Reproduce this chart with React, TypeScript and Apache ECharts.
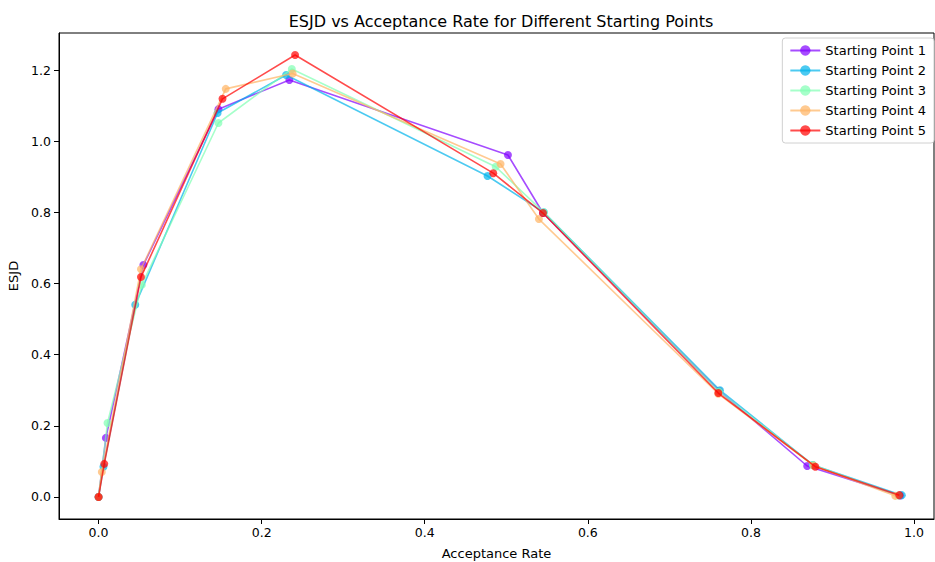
import React, { useEffect, useRef } from "react";
import * as echarts from "echarts";

// Acceptance rate (x) and ESJD (y) for each starting point
const seriesNames = [
  "Starting Point 1",
  "Starting Point 2",
  "Starting Point 3",
  "Starting Point 4",
  "Starting Point 5",
];

const acc1 = [0.0, 0.009, 0.055, 0.147, 0.234, 0.502, 0.545, 0.761, 0.869, 0.983];
const esjd1 = [0.0, 0.166, 0.652, 1.09, 1.172, 0.961, 0.798, 0.298, 0.087, 0.004];

const acc2 = [0.0, 0.006, 0.045, 0.146, 0.23, 0.477, 0.546, 0.762, 0.876, 0.985];
const esjd2 = [0.0, 0.085, 0.54, 1.079, 1.186, 0.902, 0.8, 0.3, 0.09, 0.005];

const acc3 = [0.0, 0.011, 0.053, 0.147, 0.237, 0.487, 0.546, 0.761, 0.876, 0.981];
const esjd3 = [0.0, 0.208, 0.596, 1.051, 1.203, 0.928, 0.8, 0.296, 0.09, 0.004];

const acc4 = [0.0, 0.004, 0.052, 0.156, 0.238, 0.493, 0.54, 0.76, 0.877, 0.977];
const esjd4 = [0.0, 0.07, 0.64, 1.147, 1.19, 0.936, 0.781, 0.29, 0.088, 0.003];

const acc5 = [0.0, 0.007, 0.052, 0.152, 0.241, 0.484, 0.545, 0.76, 0.879, 0.982];
const esjd5 = [0.0, 0.093, 0.618, 1.119, 1.242, 0.91, 0.798, 0.292, 0.085, 0.005];

const accs = [acc1, acc2, acc3, acc4, acc5];
const esjds = [esjd1, esjd2, esjd3, esjd4, esjd5];

// rainbow colormap sampled at 5 points
const colors = ["#8000ff", "#00b4eb", "#80ffb4", "#ffb462", "#ff0000"];

const xTicks = [0, 0.2, 0.4, 0.6, 0.8, 1.0];
const yTicks = [0, 0.2, 0.4, 0.6, 0.8, 1.0, 1.2];

const FONT = "DejaVu Sans";

export default function App() {
  const ref = useRef<HTMLDivElement>(null);

  useEffect(() => {
    if (!ref.current) return;
    const chart = echarts.init(ref.current, undefined, { renderer: "svg" });

    const series = seriesNames.map((name, i) => ({
      name,
      type: "line",
      data: accs[i].map((x, j) => [x, esjds[i][j]]),
      symbol: "circle",
      symbolSize: 8,
      showSymbol: true,
      z: 2 + i,
      lineStyle: { color: colors[i], width: 1.6, opacity: 0.7 },
      itemStyle: { color: colors[i], opacity: 0.7 },
      emphasis: { disabled: true },
    }));

    chart.setOption({
      animation: false,
      backgroundColor: "#ffffff",
      textStyle: { fontFamily: FONT },
      title: {
        text: "ESJD vs Acceptance Rate for Different Starting Points",
        left: 496,
        top: 8,
        textAlign: "center",
        textStyle: { fontFamily: FONT, fontSize: 16, fontWeight: "normal", color: "#000" },
      },
      legend: {
        orient: "vertical",
        right: 1,
        top: 38,
        padding: [6, 8, 6, 7],
        itemGap: 7,
        itemWidth: 30,
        itemHeight: 13,
        backgroundColor: "#ffffff",
        borderColor: "#d0d0d0",
        borderWidth: 1,
        borderRadius: 3,
        textStyle: { fontFamily: FONT, fontSize: 13, color: "#000" },
        data: seriesNames,
      },
      grid: {
        left: 59,
        right: 1,
        top: 33,
        bottom: 43,
        outerBoundsMode: "none",
        containLabel: false,
        show: true,
        borderColor: "#000",
        borderWidth: 1,
        backgroundColor: "transparent",
      },
      xAxis: {
        type: "value",
        min: -0.0485,
        max: 1.0245,
        name: "Acceptance Rate",
        nameLocation: "middle",
        nameGap: 28,
        nameTextStyle: { fontFamily: FONT, fontSize: 13, color: "#000" },
        axisLine: { show: true, onZero: false, lineStyle: { color: "#000", width: 1 } },
        axisTick: { show: true, inside: false, length: 5, lineStyle: { color: "#000" }, customValues: xTicks },
        axisLabel: {
          fontFamily: FONT,
          fontSize: 12.5,
          color: "#000",
          margin: 7,
          customValues: xTicks,
          formatter: (v: number) => v.toFixed(1),
        },
        splitLine: { show: false },
      },
      yAxis: {
        type: "value",
        min: -0.062,
        max: 1.304,
        name: "ESJD",
        nameLocation: "middle",
        nameGap: 37,
        nameRotate: 90,
        nameTextStyle: { fontFamily: FONT, fontSize: 13, color: "#000" },
        axisLine: { show: true, onZero: false, lineStyle: { color: "#000", width: 1 } },
        axisTick: { show: true, inside: false, length: 5, lineStyle: { color: "#000" }, customValues: yTicks },
        axisLabel: {
          fontFamily: FONT,
          fontSize: 12.5,
          color: "#000",
          margin: 8,
          customValues: yTicks,
          formatter: (v: number) => v.toFixed(1),
        },
        splitLine: { show: false },
      },
      series,
    });

    return () => chart.dispose();
  }, []);

  return (
    <div
      ref={ref}
      style={{ position: "absolute", left: 0, top: 0, width: 935, height: 562 }}
    />
  );
}
